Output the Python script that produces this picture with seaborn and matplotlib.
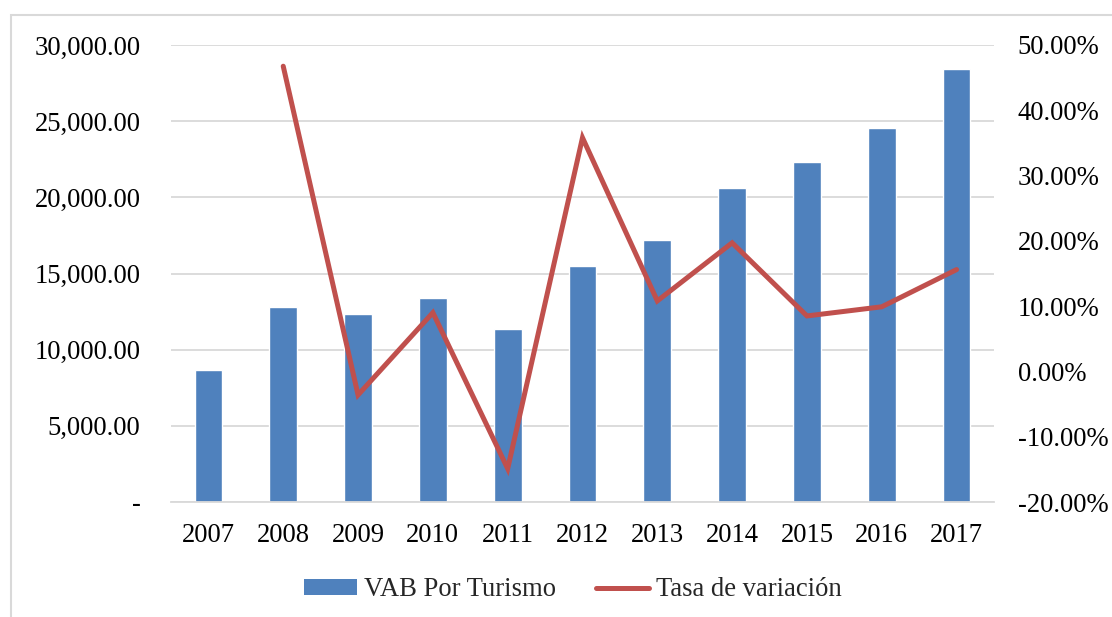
import numpy as np
import pandas as pd
import matplotlib
matplotlib.use("Agg")
import matplotlib.pyplot as plt
import seaborn as sns
from matplotlib.ticker import FuncFormatter, FixedLocator
from matplotlib.patches import Rectangle, Patch
from matplotlib.lines import Line2D

# ---- data ----
years = ["2007", "2008", "2009", "2010", "2011", "2012", "2013", "2014", "2015", "2016", "2017"]
vab_turismo = [8690, 12776, 12310, 13397, 11379, 15517, 17224, 20586, 22345, 24569, 28397]
tasa_variacion = [np.nan, 0.4675, -0.036, 0.090, -0.149, 0.358, 0.108, 0.197, 0.085, 0.099, 0.156]
left_ticks = [0, 5000, 10000, 15000, 20000, 25000, 30000]
right_ticks = [-0.2, -0.1, 0.0, 0.1, 0.2, 0.3, 0.4, 0.5]

df = pd.DataFrame({"year": years, "vab": vab_turismo, "tasa": tasa_variacion})
df["pos"] = np.arange(len(df))

sns.set_theme(style="white")
plt.rcParams["font.family"] = ["Liberation Serif", "DejaVu Serif"]

BLUE = "#4F81BD"
RED = "#C0504D"
GRID = "#D9D9D9"
FS = 19.2

fig = plt.figure(figsize=(11.12, 6.17), dpi=100)
fig.patch.set_facecolor("white")

W, H = 1112, 617
x0, x1, y0, y1 = 171, 994, 45, 502
ax = fig.add_axes([x0 / W, 1 - y1 / H, (x1 - x0) / W, (y1 - y0) / H])

sns.barplot(data=df, x="year", y="vab", color=BLUE, width=0.37, ax=ax,
            saturation=1, zorder=2)
ax.set_ylim(0, 30000)
ax.set_xlim(-0.5, len(years) - 0.5)
ax.yaxis.set_major_locator(FixedLocator(left_ticks))
ax.yaxis.set_major_formatter(FuncFormatter(lambda v, p: "-" if v == 0 else f"{v:,.2f}"))
ax.grid(axis="y", color=GRID, lw=1.3, zorder=0)
ax.grid(axis="x", visible=False)
ax.set_axisbelow(True)
for s in ["top", "right", "left"]:
    ax.spines[s].set_visible(False)
ax.spines["bottom"].set_color(GRID)
ax.spines["bottom"].set_linewidth(1.3)
ax.tick_params(axis="y", length=0, pad=22, labelsize=FS, colors="black")
ax.tick_params(axis="x", length=0, pad=15, labelsize=FS, colors="black")
ax.set_xlabel("")
ax.set_ylabel("")

ax2 = ax.twinx()
sns.lineplot(data=df.dropna(), x="pos", y="tasa", color=RED, lw=3.6, ax=ax2,
             solid_capstyle="round", solid_joinstyle="miter")
ax2.set_ylim(-0.2, 0.5)
ax2.set_xlim(-0.5, len(years) - 0.5)
ax2.yaxis.set_major_locator(FixedLocator(right_ticks))
ax2.yaxis.set_major_formatter(FuncFormatter(lambda v, p: f"{v * 100:.2f}%"))
ax2.tick_params(axis="y", length=0, pad=17, labelsize=FS, colors="black")
for s in ["top", "right", "left", "bottom"]:
    ax2.spines[s].set_visible(False)
ax2.grid(False)
ax2.set_ylabel("")
ax2.set_xlabel("")
if ax2.get_legend():
    ax2.get_legend().remove()

handles = [Patch(facecolor=BLUE, edgecolor="none"),
           Line2D([0], [0], color=RED, lw=3.6, solid_capstyle="round")]
fig.legend(handles, ["VAB Por Turismo", "Tasa de variación"], loc="center",
           bbox_to_anchor=(573 / W, 1 - 590 / H), ncol=2, frameon=False,
           fontsize=FS, handlelength=2.0, handleheight=0.5, handletextpad=0.25,
           columnspacing=1.5)

fig.patches.append(Rectangle((11 / W, -0.2), 2, 1.2 - 15 / H, transform=fig.transFigure,
                             fill=False, edgecolor=GRID, lw=1.5))

fig.savefig("out.png", dpi=100)
